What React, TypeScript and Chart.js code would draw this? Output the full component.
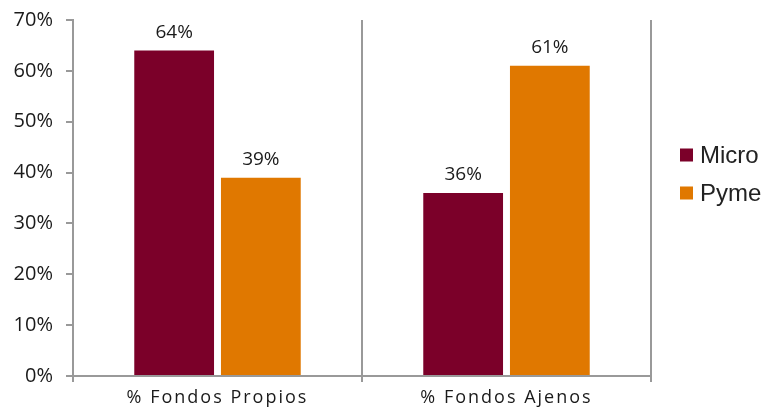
import React, { useEffect, useRef } from "react";
import { Chart, registerables } from "chart.js";

Chart.register(...registerables);

const categories = ["% Fondos Propios", "% Fondos Ajenos"];
const microValues = [64, 36];
const pymeValues = [39, 61];
const seriesNames = ["Micro", "Pyme"];
const seriesColors = ["#7B0029", "#E07800"];
const yTicks = [0, 10, 20, 30, 40, 50, 60, 70];

const FONT = "'Open Sans', 'DejaVu Sans', sans-serif";
const AXIS_GRAY = "#999999";

const valueLabels = {
  id: "valueLabels",
  afterDatasetsDraw(chart: any) {
    const ctx = chart.ctx;
    ctx.save();
    ctx.font = `19px ${FONT}`;
    ctx.fillStyle = "#1a1a1a";
    ctx.textAlign = "center";
    ctx.textBaseline = "alphabetic";
    chart.data.datasets.forEach((ds: any, i: number) => {
      const meta = chart.getDatasetMeta(i);
      meta.data.forEach((bar: any, j: number) => {
        ctx.fillText(`${ds.data[j]}%`, bar.x, bar.y - 13);
      });
    });
    ctx.restore();
    // letter spacing for the category labels drawn in the next layer
    (ctx as any).letterSpacing = "2px";
  },
};

const sideLegend = {
  id: "sideLegend",
  afterDraw(chart: any) {
    const ctx = chart.ctx;
    (ctx as any).letterSpacing = "0px";
    const x0 = chart.chartArea.right + 29;
    const yMid = 174;
    const gap = 38;
    const n = chart.data.datasets.length;
    ctx.save();
    ctx.font = "24px 'Liberation Sans', Arial, sans-serif";
    ctx.textBaseline = "middle";
    ctx.textAlign = "left";
    chart.data.datasets.forEach((ds: any, i: number) => {
      const y = yMid + (i - (n - 1) / 2) * gap;
      ctx.fillStyle = ds.backgroundColor;
      ctx.fillRect(x0, y - 6.5, 13, 13);
      ctx.fillStyle = "#222";
      ctx.fillText(ds.label, x0 + 20, y + 1);
    });
    ctx.restore();
  },
};

export default function App() {
  const ref = useRef<HTMLCanvasElement>(null);
  useEffect(() => {
    document.body.style.margin = "0";
    const chart = new Chart(ref.current!, {
      type: "bar",
      data: {
        labels: categories,
        datasets: [
          { label: seriesNames[0], data: microValues, backgroundColor: seriesColors[0] },
          { label: seriesNames[1], data: pymeValues, backgroundColor: seriesColors[1] },
        ],
      },
      options: {
        animation: false,
        responsive: false,
        maintainAspectRatio: false,
        layout: { padding: { top: 20, right: 111, left: 0, bottom: 0 } },
        datasets: { bar: { categoryPercentage: 0.6, barPercentage: 0.92 } },
        plugins: {
          legend: { display: false },
          tooltip: { enabled: false },
        },
        scales: {
          x: {
            afterFit: (s: any) => { s.height = 41; s.paddingLeft = 0; s.paddingRight = 0; },
            grid: {
              offset: true,
              drawOnChartArea: true,
              color: AXIS_GRAY,
              lineWidth: 2,
              tickLength: 6,
            },
            border: { color: AXIS_GRAY, width: 2 },
            ticks: { z: 1, color: "#1a1a1a", font: { family: FONT, size: 18 }, padding: 5 },
          },
          y: {
            min: 0,
            max: 70,
            afterFit: (s: any) => { s.width = 73; s.paddingTop = 0; s.paddingBottom = 0; },
            afterBuildTicks: (s: any) => { s.ticks = yTicks.map((v) => ({ value: v })); },
            grid: { drawOnChartArea: false, color: AXIS_GRAY, lineWidth: 2, tickLength: 7 },
            border: { color: AXIS_GRAY, width: 2 },
            ticks: {
              color: "#1a1a1a",
              font: { family: FONT, size: 20 },
              padding: 13,
              callback: (v: any) => `${v}%`,
            },
          },
        },
      },
      plugins: [valueLabels, sideLegend],
    });
    return () => chart.destroy();
  }, []);
  return (
    <div style={{ width: 762, height: 417 }}>
      <canvas ref={ref} width={762} height={417} />
    </div>
  );
}
